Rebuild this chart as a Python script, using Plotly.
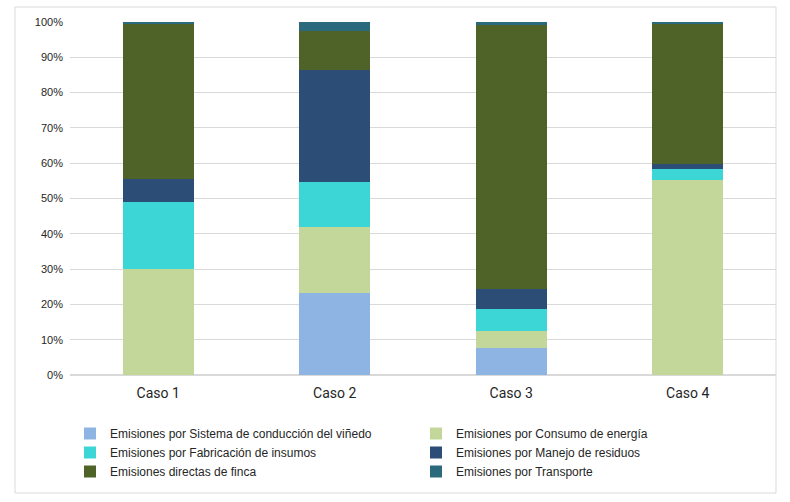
import plotly.graph_objects as go

cases = ["Caso 1", "Caso 2", "Caso 3", "Caso 4"]
series_names = [
    "Emisiones por Sistema de conducción del viñedo",
    "Emisiones por Consumo de energía",
    "Emisiones por Fabricación de insumos",
    "Emisiones por Manejo de residuos",
    "Emisiones directas de finca",
    "Emisiones por Transporte",
]
sistema = [0.0, 23.3, 7.6, 0.0]
energia = [30.0, 18.5, 4.9, 55.2]
fabricacion = [19.1, 12.9, 6.2, 3.2]
residuos = [6.4, 31.7, 5.7, 1.3]
directas = [44.2, 11.1, 74.8, 39.9]
transporte = [0.3, 2.5, 0.8, 0.4]
series_values = [sistema, energia, fabricacion, residuos, directas, transporte]
colors = ["#8EB4E3", "#C4D79B", "#3DD6D6", "#2C4D75", "#4F6228", "#2A6A7C"]
y_ticks = list(range(0, 101, 10))
y_tick_labels = [f"{v}%" for v in y_ticks]

fig = go.Figure()
for name, vals, col in zip(series_names, series_values, colors):
    fig.add_trace(go.Bar(
        x=cases, y=vals, name=name,
        marker=dict(color=col, line=dict(width=0)),
    ))

W, H = 790, 502
ml, mr, mt, mb = 70, 14, 22, 127
pw, ph = W - ml - mr, H - mt - mb

def px(x):
    return (x - ml) / pw

def py(y):
    return (H - mb - y) / ph

fig.update_layout(
    width=W, height=H,
    margin=dict(l=ml, r=mr, t=mt, b=mb, autoexpand=False),
    barmode="stack",
    bargap=0.6,
    plot_bgcolor="white",
    paper_bgcolor="white",
    font=dict(family="Roboto", color="#262626"),
    showlegend=True,
    legend=dict(
        orientation="h",
        x=px(70), xanchor="left",
        y=py(419), yanchor="top",
        entrywidth=301, entrywidthmode="pixels",
        font=dict(family="Liberation Sans", size=12, color="#262626"),
        traceorder="normal",
        itemwidth=30,
    ),
    xaxis=dict(
        showgrid=False,
        showline=False,
        ticks="",
        tickfont=dict(family="Roboto", size=14, color="#262626"),
        ticklabelstandoff=8,
    ),
    yaxis=dict(
        range=[0, 100],
        tickvals=y_ticks,
        ticktext=y_tick_labels,
        showgrid=True,
        gridcolor="#D9D9D9",
        gridwidth=1,
        zeroline=True,
        zerolinecolor="#D9D9D9",
        showline=False,
        ticks="",
        tickfont=dict(family="Liberation Sans", size=11, color="#262626"),
        ticklabelstandoff=6,
    ),
    shapes=[dict(
        type="rect", xref="paper", yref="paper",
        x0=px(15), x1=px(776), y0=py(493), y1=py(7),
        line=dict(color="#D9D9D9", width=1), fillcolor="rgba(0,0,0,0)",
        layer="below",
    )],
)

fig.write_html("out.html")
